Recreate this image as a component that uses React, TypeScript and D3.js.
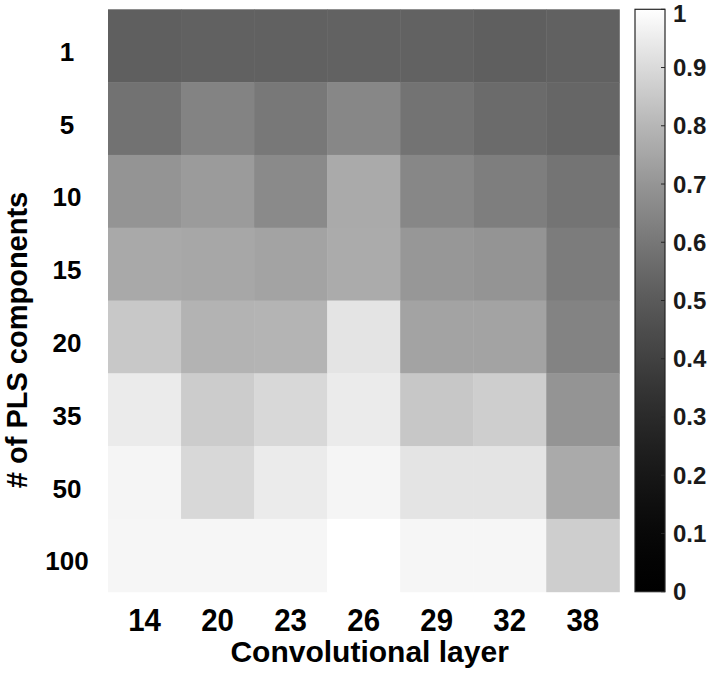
import * as d3 from 'd3';
import React, { useEffect, useRef } from 'react';

// columns: convolutional layer, rows: number of PLS components
const layers = ['14', '20', '23', '26', '29', '32', '38'];
const components = ['1', '5', '10', '15', '20', '35', '50', '100'];

// one array per row (same order as components), values in [0, 1]
const row1 = [0.516, 0.526, 0.526, 0.53, 0.53, 0.516, 0.526];
const row5 = [0.583, 0.641, 0.605, 0.653, 0.588, 0.562, 0.544];
const row10 = [0.696, 0.718, 0.665, 0.762, 0.653, 0.625, 0.592];
const row15 = [0.759, 0.755, 0.741, 0.766, 0.704, 0.696, 0.617];
const row20 = [0.851, 0.79, 0.794, 0.928, 0.741, 0.741, 0.641];
const row35 = [0.946, 0.861, 0.896, 0.946, 0.848, 0.867, 0.696];
const row50 = [0.973, 0.896, 0.946, 0.973, 0.928, 0.928, 0.762];
const row100 = [0.976, 0.976, 0.976, 1.0, 0.976, 0.976, 0.867];

const colorTicks = [0, 0.1, 0.2, 0.3, 0.4, 0.5, 0.6, 0.7, 0.8, 0.9, 1];

const FONT = '"Liberation Sans", Arial, sans-serif';

function App() {
    const ref = useRef<SVGSVGElement>(null);

    useEffect(() => {
        const svg = d3.select(ref.current);
        svg.selectAll('*').remove();

        const rows = [row1, row5, row10, row15, row20, row35, row50, row100];
        const cells: { r: string; c: string; v: number }[] = [];
        rows.forEach((vals, i) => {
            vals.forEach((v, j) => cells.push({ r: components[i], c: layers[j], v }));
        });

        const left = 108, right = 619.3, top = 9.3, bottom = 591.7;

        const x = d3.scaleBand().domain(layers).range([left, right]);
        const y = d3.scaleBand().domain(components).range([top, bottom]);
        // Graustufen, etwas kontrastreicher als linear (wie im Original)
        const level = d3.scalePow().exponent(1.5).domain([0, 1]).range([0, 255]).clamp(true);
        const color = (v: number) => {
            const g = Math.round(level(v));
            return d3.rgb(g, g, g).formatHex();
        };

        // Zellen
        svg.append('g')
            .selectAll('rect')
            .data(cells)
            .enter()
            .append('rect')
            .attr('x', d => x(d.c)!)
            .attr('y', d => y(d.r)!)
            .attr('width', x.bandwidth() + 0.5)
            .attr('height', y.bandwidth() + 0.5)
            .attr('fill', d => color(d.v));

        // x tick labels
        svg.append('g')
            .selectAll('text')
            .data(layers)
            .enter()
            .append('text')
            .attr('transform', d => `translate(${x(d)! + x.bandwidth() / 2},631) scale(0.92,1)`)
            .attr('text-anchor', 'middle')
            .style('font-family', FONT)
            .style('font-weight', 'bold')
            .style('font-size', '32px')
            .text(d => d);

        // y tick labels
        svg.append('g')
            .selectAll('text')
            .data(components)
            .enter()
            .append('text')
            .attr('x', 67)
            .attr('y', d => y(d)! + y.bandwidth() / 2 + 15)
            .attr('text-anchor', 'middle')
            .style('font-family', FONT)
            .style('font-weight', 'bold')
            .style('font-size', '26px')
            .text(d => d);

        svg.append('text')
            .attr('x', (left + right) / 2 + 6)
            .attr('y', 662)
            .attr('text-anchor', 'middle')
            .style('font-family', FONT)
            .style('font-weight', 'bold')
            .style('font-size', '30px')
            .text('Convolutional layer');

        svg.append('text')
            .attr('transform', `translate(27,340) rotate(-90)`)
            .attr('text-anchor', 'middle')
            .style('font-family', FONT)
            .style('font-weight', 'bold')
            .style('font-size', '29px')
            .text('# of PLS components');

        // Farbskala
        const cbX = 635, cbW = 30;
        const cb = d3.scaleLinear().domain([0, 1]).range([bottom, top]);

        const grad = svg.append('defs')
            .append('linearGradient')
            .attr('id', 'cbgrad')
            .attr('x1', 0).attr('y1', 1)
            .attr('x2', 0).attr('y2', 0);
        grad.selectAll('stop')
            .data(d3.range(0, 1.0001, 0.05))
            .enter()
            .append('stop')
            .attr('offset', d => `${d * 100}%`)
            .attr('stop-color', d => color(d));

        svg.append('rect')
            .attr('x', cbX)
            .attr('y', top)
            .attr('width', cbW)
            .attr('height', bottom - top)
            .attr('fill', 'url(#cbgrad)')
            .attr('stroke', '#262626')
            .attr('stroke-width', 1.2);

        const cbTicks = svg.append('g');
        cbTicks.selectAll('line')
            .data(colorTicks)
            .enter()
            .append('line')
            .attr('x1', cbX + cbW - 4)
            .attr('x2', cbX + cbW)
            .attr('y1', d => cb(d))
            .attr('y2', d => cb(d))
            .attr('stroke', '#262626')
            .attr('stroke-width', 1);

        cbTicks.selectAll('text')
            .data(colorTicks)
            .enter()
            .append('text')
            .attr('x', cbX + cbW + 8)
            .attr('y', d => Math.max(cb(d) + 8.5, 22))
            .style('font-family', FONT)
            .style('font-weight', 'bold')
            .style('font-size', '24px')
            .style('fill', '#1a1a1a')
            .text(d => String(d));
    }, []);

    return (
        <svg ref={ref} width={709} height={678}
            style={{ position: 'absolute', left: 0, top: 0, background: 'white' }}></svg>
    );
}

export default App;
